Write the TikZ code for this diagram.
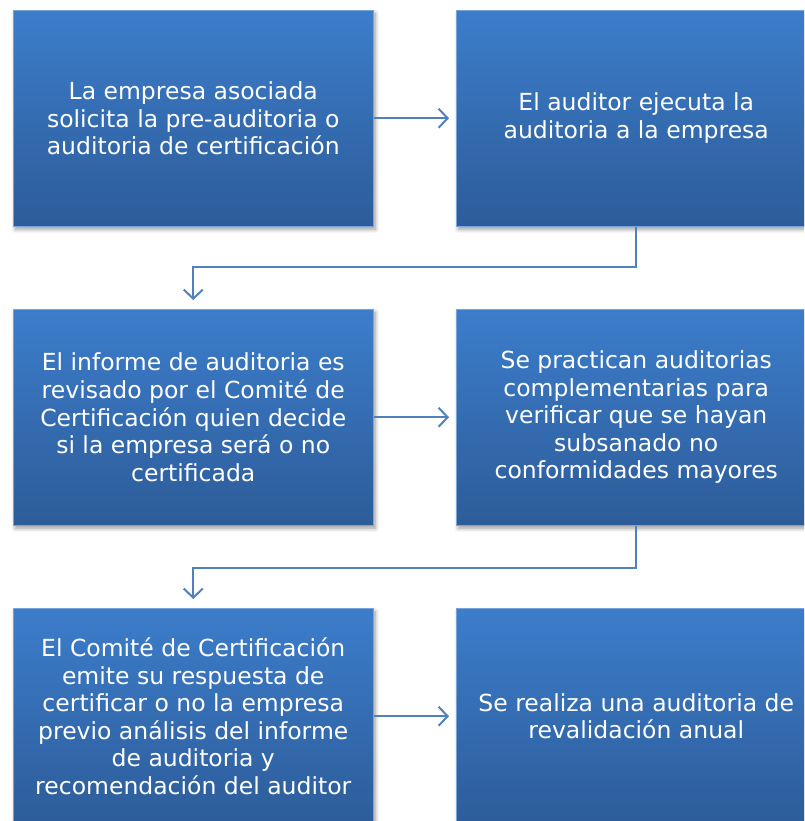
\documentclass[tikz,border=0pt]{standalone}
\usepackage{fontspec}
\setmainfont{DejaVu Sans}
\usetikzlibrary{arrows.meta,shadows.blur}
\definecolor{boxtop}{HTML}{3C7DCB}
\definecolor{boxbot}{HTML}{2D5C99}
\definecolor{conncol}{HTML}{4F81BD}
\tikzset{
  stepbox/.style={rectangle, anchor=north west, minimum width=360pt, minimum height=216pt,
    top color=boxtop, bottom color=boxbot, draw=boxtop!70!white, line width=0.5pt,
    text=white, align=center, inner sep=2pt,
    font=\fontsize{23.5}{27.6}\selectfont,
    blur shadow={shadow xshift=2pt, shadow yshift=-3pt, shadow blur steps=6, shadow blur radius=4pt, shadow opacity=40}},
  conn/.style={draw=conncol, line width=2pt, -{Straight Barb[length=9pt,width=19pt,line width=2pt]}}
}
\begin{document}
\begin{tikzpicture}[x=1pt,y=-1pt]
\useasboundingbox (0,0) rectangle (804,821);
\clip (0,0) rectangle (804,821);
\node[stepbox] (b1) at (13,10) {La empresa asociada\\solicita la pre-auditoria o\\auditoria de certificación};
\node[stepbox] (b2) at (456,10) {El auditor ejecuta la\\auditoria a la empresa};
\node[stepbox] (b3) at (13,309) {El informe de auditoria es\\revisado por el Comité de\\Certificación quien decide\\si la empresa será o no\\certificada};
\node[stepbox] (b4) at (456,309) {Se practican auditorias\\complementarias para\\verificar que se hayan\\subsanado no\\conformidades mayores};
\node[stepbox] (b5) at (13,608) {El Comité de Certificación\\emite su respuesta de\\certificar o no la empresa\\previo análisis del informe\\de auditoria y\\recomendación del auditor};
\node[stepbox] (b6) at (456,608) {Se realiza una auditoria de\\revalidación anual};
\draw[conn] (b1.east) -- ([xshift=-7pt]b2.west);
\draw[conn] (b3.east) -- ([xshift=-7pt]b4.west);
\draw[conn] (b5.east) -- ([xshift=-7pt]b6.west);
\draw[conn] (b2.south) -- ++(0,40) -| ([yshift=9pt]b3.north);
\draw[conn] (b4.south) -- ++(0,42) -| ([yshift=9pt]b5.north);
\end{tikzpicture}
\end{document}
